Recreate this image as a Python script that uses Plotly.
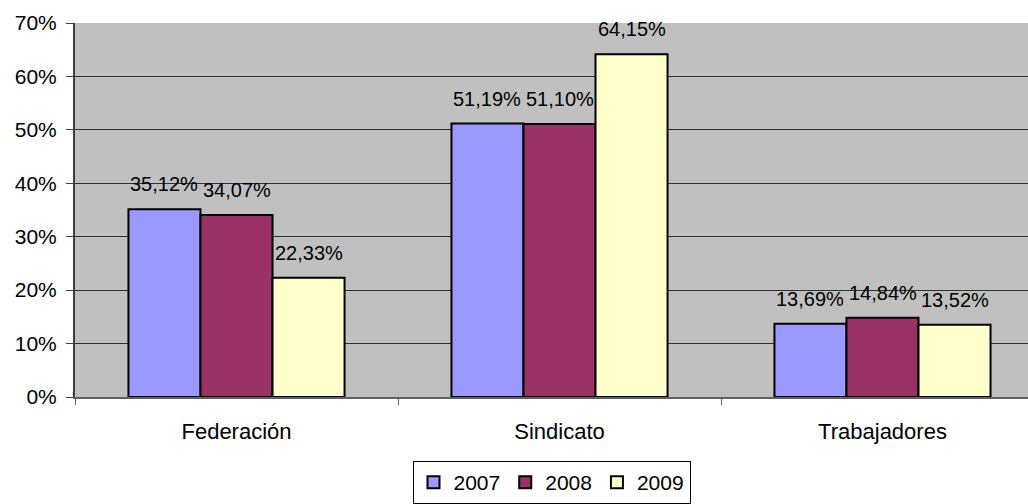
import plotly.graph_objects as go

categories = ["Federación", "Sindicato", "Trabajadores"]
years = ["2007", "2008", "2009"]
values_2007 = [35.12, 51.19, 13.69]
values_2008 = [34.07, 51.10, 14.84]
values_2009 = [22.33, 64.15, 13.52]
colors = ["#9999FF", "#993366", "#FFFFCC"]
y_ticks = [0, 10, 20, 30, 40, 50, 60, 70]

series = [values_2007, values_2008, values_2009]

W, H = 1028, 504
ML, MR, MT, MB = 75, 0, 23, 107
CAT_PX = 323          # width of one category slot in pixels
BARGAP = 0.331
FONT = "Liberation Sans, Arial, sans-serif"

def pct(v):
    return f"{v:.2f}".replace(".", ",") + "%"

fig = go.Figure()
for name, vals, col in zip(years, series, colors):
    fig.add_trace(go.Bar(
        name=name, x=categories, y=vals,
        marker=dict(color=col, line=dict(color="#000000", width=2)),
    ))

# value labels centred over each bar of a group
bar_px = CAT_PX * (1 - BARGAP) / len(series)
annotations = []
for i, vals in enumerate(series):
    for cat, v in zip(categories, vals):
        annotations.append(dict(
            x=cat, y=v, xref="x", yref="y", text=pct(v), showarrow=False,
            xanchor="center", yanchor="bottom",
            xshift=(i - 1) * bar_px, yshift=12,
            font=dict(size=20, color="#000000", family=FONT),
        ))

# the plot area runs slightly past the right edge of the page
x_span = (W - ML - MR) / CAT_PX

fig.update_layout(
    width=W, height=H,
    barmode="group", bargap=BARGAP, bargroupgap=0,
    plot_bgcolor="#C0C0C0", paper_bgcolor="#FFFFFF",
    font=dict(family=FONT, size=21, color="#000000"),
    margin=dict(l=ML, r=MR, t=MT, b=MB),
    annotations=annotations,
    legend=dict(orientation="h", x=0.5, xanchor="center",
                yref="container", y=0.0, yanchor="bottom",
                bordercolor="#000000", borderwidth=1, font=dict(size=21),
                itemwidth=30, tracegroupgap=0),
    xaxis=dict(range=[-0.5, -0.5 + x_span],
               ticks="outside", tickson="boundaries", ticklen=6, tickcolor="#606060",
               showline=True, linecolor="#606060", linewidth=2, showgrid=False,
               tickfont=dict(size=22), ticklabelstandoff=14),
    yaxis=dict(range=[0, 70], tickvals=y_ticks, ticktext=[f"{t}%" for t in y_ticks],
               ticks="outside", ticklen=7, tickcolor="#404040",
               showline=True, linecolor="#404040", linewidth=2,
               showgrid=True, gridcolor="#303030", gridwidth=1,
               zeroline=False, tickfont=dict(size=21), ticklabelstandoff=5),
)

fig.write_html("out.html")
